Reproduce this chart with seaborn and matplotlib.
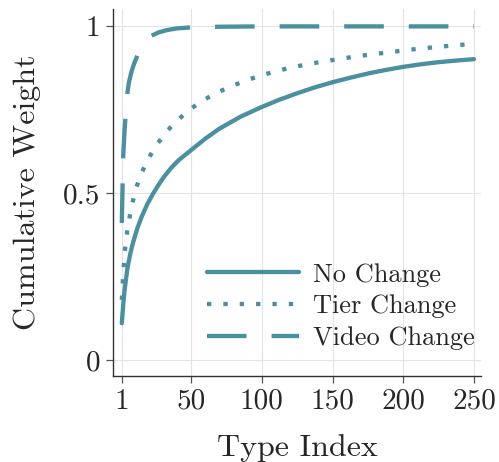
import numpy as np
import pandas as pd
import matplotlib
matplotlib.use("Agg")
import matplotlib.pyplot as plt
import seaborn as sns

# Cumulative weight by type index, one curve per change scenario
no_change_idx = [1, 2, 3, 5, 7, 9, 12, 15, 19, 23, 27, 31, 36, 41, 50, 60, 70, 85, 100,
                 112, 125, 137, 150, 163, 176, 188, 200, 213, 225, 238, 250]
no_change_w = [0.11, 0.165, 0.211, 0.275, 0.318, 0.352, 0.394, 0.428, 0.466, 0.497, 0.524,
               0.549, 0.575, 0.597, 0.628, 0.662, 0.692, 0.728, 0.757, 0.778, 0.798,
               0.815, 0.831, 0.845, 0.858, 0.868, 0.877, 0.885, 0.891, 0.896, 0.900]

tier_change_idx = [1, 2, 3, 4, 5, 6, 8, 11, 15, 20, 26, 33, 40, 49, 58, 69, 79, 90, 100,
                   112, 123, 134, 145, 157, 168, 179, 191, 202, 213, 225, 236, 247, 250]
tier_change_w = [0.18, 0.255, 0.32, 0.36, 0.39, 0.415, 0.46, 0.513, 0.56, 0.604, 0.646,
                 0.685, 0.716, 0.749, 0.776, 0.801, 0.820, 0.838, 0.852, 0.866, 0.877,
                 0.886, 0.894, 0.902, 0.909, 0.915, 0.921, 0.927, 0.932, 0.937, 0.941,
                 0.945, 0.946]

video_change_idx = [1, 2, 3, 4, 5, 6, 8, 10, 12, 15, 18, 22, 27, 33, 40, 50, 70, 100, 150, 200, 250]
video_change_w = [0.41, 0.61, 0.69, 0.75, 0.80, 0.83, 0.865, 0.89, 0.91, 0.935, 0.953, 0.97,
                  0.98, 0.987, 0.992, 0.995, 0.997, 0.998, 0.998, 0.998, 0.998]

series_names = ["No Change", "Tier Change", "Video Change"]
x_ticks = [1, 50, 100, 150, 200, 250]
x_tick_labels = ["1", "50", "100", "150", "200", "250"]
y_ticks = [0, 0.5, 1]
y_tick_labels = ["0", "0.5", "1"]

df = pd.concat([
    pd.DataFrame({"Type Index": no_change_idx, "Cumulative Weight": no_change_w, "Scenario": series_names[0]}),
    pd.DataFrame({"Type Index": tier_change_idx, "Cumulative Weight": tier_change_w, "Scenario": series_names[1]}),
    pd.DataFrame({"Type Index": video_change_idx, "Cumulative Weight": video_change_w, "Scenario": series_names[2]}),
], ignore_index=True)

sns.set_style("ticks")
plt.rcParams["font.family"] = ["cmr10", "DejaVu Serif"]
plt.rcParams["mathtext.fontset"] = "cm"
plt.rcParams["axes.formatter.use_mathtext"] = True

teal = "#4a90a0"

fig = plt.figure(figsize=(4.99, 4.62), dpi=100)
ax = fig.add_axes([0.2265, 0.186, 0.7375, 0.7945])

sns.lineplot(
    data=df, x="Type Index", y="Cumulative Weight",
    hue="Scenario", style="Scenario",
    hue_order=series_names, style_order=series_names,
    palette={n: teal for n in series_names},
    dashes={"No Change": "", "Tier Change": (1.0, 2.8), "Video Change": (9.2, 5.8)},
    linewidth=3.1, ax=ax, sort=True,
)

ax.set_xlim(-5.2, 255)
ax.set_ylim(-0.048, 1.05)
ax.set_xticks(x_ticks)
ax.set_xticklabels(x_tick_labels)
ax.set_yticks(y_ticks)
ax.set_yticklabels(y_tick_labels)

ax.grid(True, color="#e3e3e3", linewidth=0.8)
ax.set_axisbelow(True)
for side in ["top", "right"]:
    ax.spines[side].set_visible(False)
for side in ["left", "bottom"]:
    ax.spines[side].set_color("#333333")
    ax.spines[side].set_linewidth(1.0)
ax.tick_params(axis="both", length=5, width=0.9, color="#555555", labelsize=21, pad=4)

ax.set_xlabel("Type Index", fontsize=23, labelpad=14)
ax.set_ylabel("Cumulative Weight", fontsize=23, labelpad=16)

leg = ax.legend(
    loc="lower right", bbox_to_anchor=(1.02, 0.035), frameon=False,
    fontsize=19, handlelength=3.5, handletextpad=0.55, labelspacing=0.3,
    borderaxespad=0.1,
)
for line in leg.get_lines():
    line.set_linewidth(3.1)

fig.savefig("out.png", dpi=100)
